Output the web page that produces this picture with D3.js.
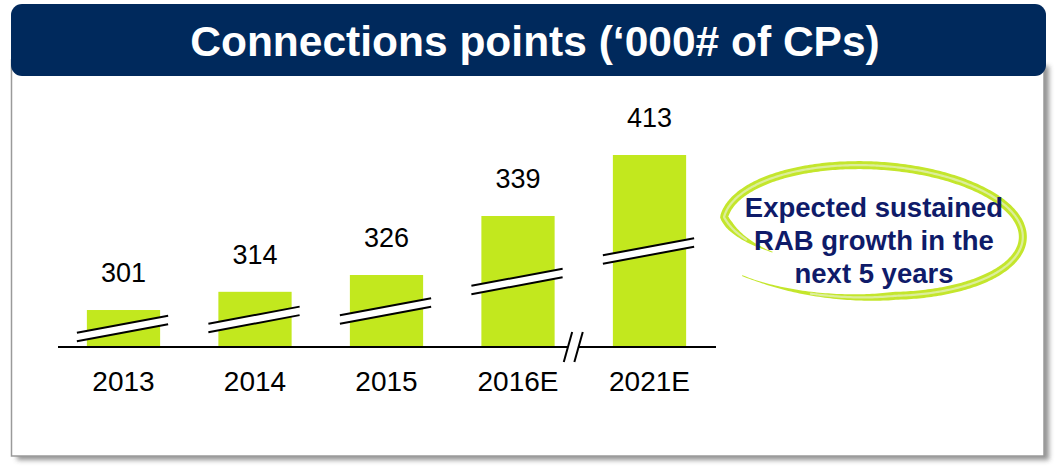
<!DOCTYPE html>
<html>
<head>
<meta charset="utf-8">
<script src="https://cdn.jsdelivr.net/npm/d3@7"></script>
<style>
  html, body { margin: 0; padding: 0; background: #ffffff; }
  svg { display: block; }
</style>
</head>
<body>
<svg id="chart" width="1063" height="466"></svg>
<script>
// ---- data ----
const title = "Connections points (\u2018000# of CPs)";
const categories = ["2013", "2014", "2015", "2016E", "2021E"];
const values = [301, 314, 326, 339, 413];
const calloutLines = ["Expected sustained", "RAB growth in the", "next 5 years"];

// ---- layout ----
const W = 1063, H = 466;
const baseY = 347;
const svg = d3.select("#chart");
const FONT = "'Liberation Sans', Arial, Helvetica, sans-serif";

const defs = svg.append("defs");
defs.append("filter").attr("id", "shadow")
  .attr("x", "-5%").attr("y", "-5%").attr("width", "115%").attr("height", "120%")
  .append("feGaussianBlur").attr("stdDeviation", 2.6);

// panel shadow + panel
svg.append("rect").attr("x", 17).attr("y", 66).attr("width", 1032).attr("height", 394)
  .attr("fill", "#6e6e6e").attr("opacity", 0.75).attr("filter", "url(#shadow)");
svg.append("rect").attr("x", 11.5).attr("y", 60).attr("width", 1032.5).attr("height", 396)
  .attr("fill", "#ffffff").attr("stroke", "#9a9a9a").attr("stroke-width", 1.5);

// title bar
svg.append("rect").attr("x", 11).attr("y", 4).attr("width", 1035).attr("height", 72)
  .attr("rx", 11).attr("ry", 11).attr("fill", "#00295c");
svg.append("text").attr("x", 535).attr("y", 56).attr("text-anchor", "middle")
  .attr("font-family", FONT).attr("font-weight", "bold").attr("font-size", 42.5)
  .attr("fill", "#ffffff").text(title);

// ---- scales ----
const x = d3.scaleBand().domain(categories).range([54, 719])
  .paddingInner(0.443).paddingOuter(0.25);
// broken value axis: piecewise-linear display scale
const y = d3.scaleLinear().domain([274.6, 326, 339, 413]).range([baseY, 275, 216, 155]);

const barColor = "#c2e81e";

// bars
svg.append("g").selectAll("rect").data(values).join("rect")
  .attr("x", (d, i) => x(categories[i]))
  .attr("y", d => y(d))
  .attr("width", x.bandwidth())
  .attr("height", d => baseY - y(d))
  .attr("fill", barColor);

// bar break marks
const slope = -17 / 91, gap = 8.5;
const brk = svg.append("g");
values.forEach((d, i) => {
  const x0 = x(categories[i]) - 10, x1 = x(categories[i]) + x.bandwidth() + 8;
  const xm = (x0 + x1) / 2;
  const cy = baseY - 0.5 * (baseY - y(d));
  const yAt = (xx, off) => cy + (xx - xm) * slope + off;
  brk.append("polygon")
    .attr("points", [[x0, yAt(x0, -gap / 2)], [x1, yAt(x1, -gap / 2)], [x1, yAt(x1, gap / 2)], [x0, yAt(x0, gap / 2)]]
      .map(p => p.join(",")).join(" "))
    .attr("fill", "#ffffff");
  [-gap / 2, gap / 2].forEach(off => {
    brk.append("line").attr("x1", x0).attr("y1", yAt(x0, off)).attr("x2", x1).attr("y2", yAt(x1, off))
      .attr("stroke", "#000").attr("stroke-width", 2);
  });
});

// baseline
svg.append("line").attr("x1", 58).attr("x2", 716).attr("y1", baseY).attr("y2", baseY)
  .attr("stroke", "#000").attr("stroke-width", 2);

// axis break between 2016E and 2021E
const endA = x(categories[3]) + x.bandwidth(), startB = x(categories[4]);
const bx = endA + (startB - endA) * 0.32;
svg.append("rect").attr("x", bx - 5.5).attr("y", baseY - 2).attr("width", 11).attr("height", 4).attr("fill", "#fff");
[-5.3, 5.3].forEach(o => {
  svg.append("line").attr("x1", bx + o - 4.2).attr("y1", baseY + 15).attr("x2", bx + o + 4.2).attr("y2", baseY - 15)
    .attr("stroke", "#000").attr("stroke-width", 2);
});

// value labels
svg.append("g").selectAll("text").data(values).join("text")
  .attr("x", (d, i) => x(categories[i]) + x.bandwidth() / 2)
  .attr("y", d => y(d) - 28)
  .attr("text-anchor", "middle")
  .attr("font-family", FONT).attr("font-size", 27).attr("fill", "#000")
  .text(d => d);

// category labels
svg.append("g").selectAll("text").data(categories).join("text")
  .attr("x", d => x(d) + x.bandwidth() / 2)
  .attr("y", 391)
  .attr("text-anchor", "middle")
  .attr("font-family", FONT).attr("font-size", 28).attr("fill", "#000")
  .text(d => d);

// ---- callout: hand-drawn lime loop ----
const ecx = 873, ecy = 230.5, erx = 150, ery = 65;
const t0 = 148, t1 = 497;
const rf = t => t < 185 ? 0.78 + 0.22 * (t - t0) / (185 - t0) : (t > 440 ? 1 + 0.17 * (t - 440) / (t1 - 440) : 1);
const P = t => { const a = t * Math.PI / 180, r = rf(t); return [ecx + erx * r * Math.cos(a), ecy + ery * r * Math.sin(a)]; };
const wf = t => 8 * Math.max(0.12, Math.min(1, (t - t0) / 30, (t1 - t) / 55));
const ts = d3.range(t0, t1 + 0.001, 1);
const left = [], right = [];
ts.forEach(t => {
  const p = P(t), pa = P(t - 0.5), pb = P(t + 0.5);
  let dx = pb[0] - pa[0], dy = pb[1] - pa[1];
  const len = Math.hypot(dx, dy) || 1; dx /= len; dy /= len;
  const w = wf(t) / 2;
  left.push([p[0] - dy * w, p[1] + dx * w]);
  right.push([p[0] + dy * w, p[1] - dx * w]);
});
const loop = svg.append("g").attr("transform", `rotate(3, ${ecx}, ${ecy})`);
loop.append("path").attr("d", d3.line()(left.concat(right.reverse())) + "Z")
  .attr("fill", "#c4e62c");
loop.append("path").attr("d", d3.line().curve(d3.curveCatmullRom)(ts.filter(t => t > t0 + 15 && t < t1 - 25).map(P)))
  .attr("fill", "none").attr("stroke", "#dcee9a").attr("stroke-width", 2.2).attr("stroke-linecap", "round");

svg.append("g").selectAll("text").data(calloutLines).join("text")
  .attr("x", 874)
  .attr("y", (d, i) => 216.5 + i * 33)
  .attr("text-anchor", "middle")
  .attr("font-family", FONT).attr("font-weight", "bold").attr("font-size", 27.5)
  .attr("fill", "#0f1b69")
  .text(d => d);
</script>
</body>
</html>
